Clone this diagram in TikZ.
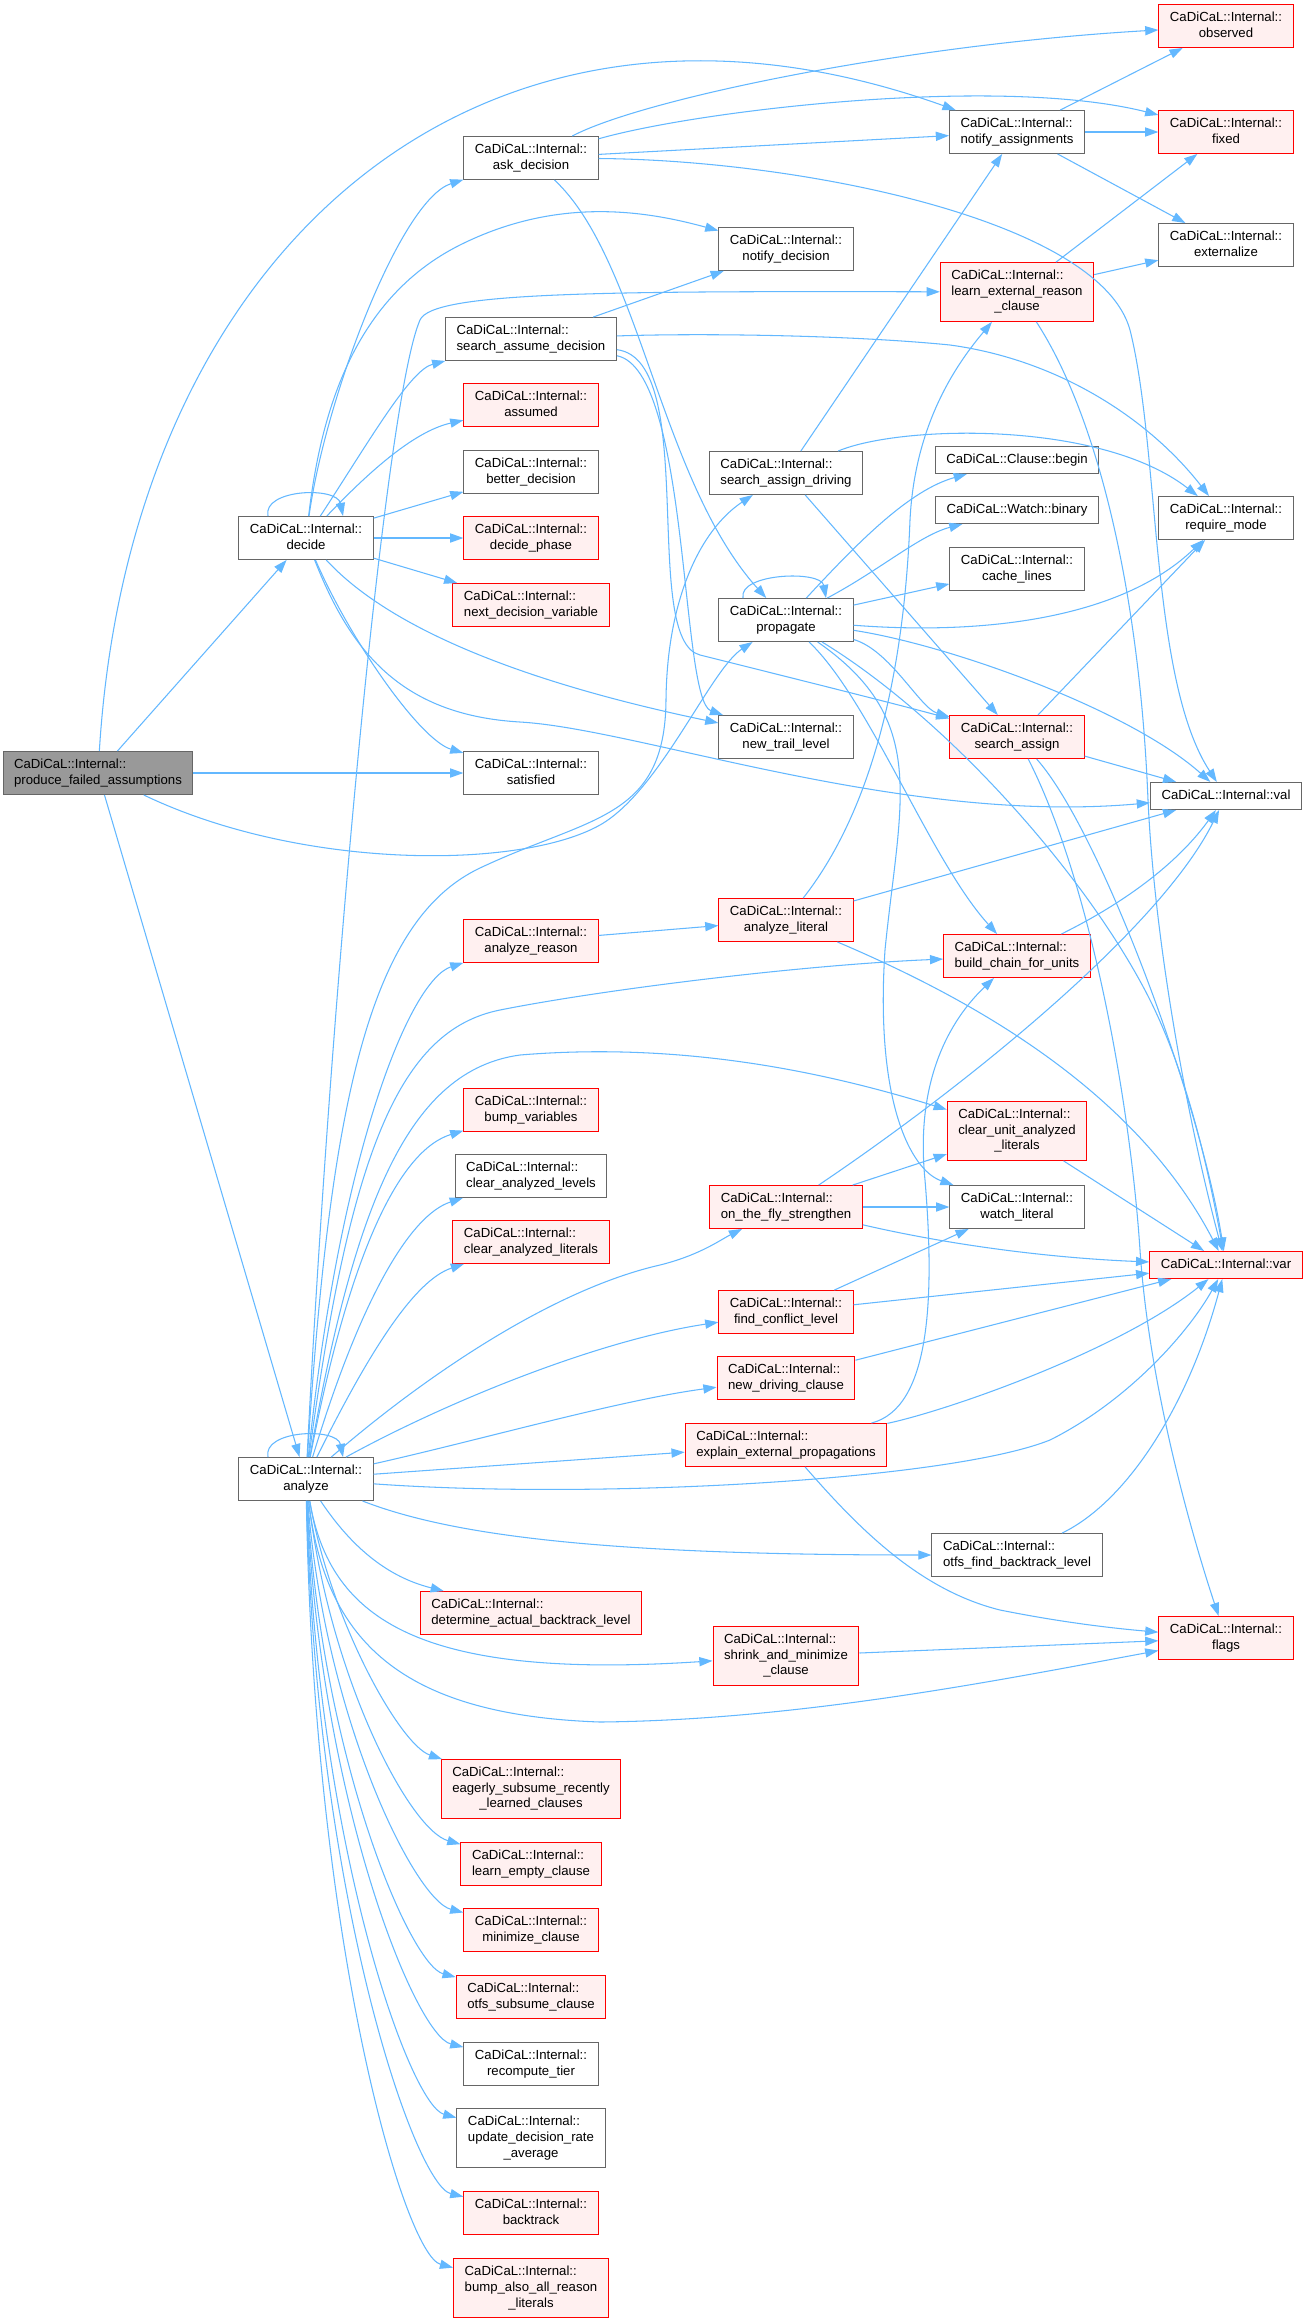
\documentclass[tikz,border=0pt]{standalone}
\usepackage{fontspec}
\setmainfont{Liberation Sans}
\usetikzlibrary{arrows.meta,calc}
\definecolor{edgeblue}{HTML}{63B8FF}
\definecolor{boxgray}{HTML}{666666}
\definecolor{redfill}{HTML}{FFF0F0}
\definecolor{rootfill}{HTML}{999999}
\newcommand{\cdi}{CaDiCaL::Internal::}
\newcommand{\fni}[1]{\begin{tabular}{@{}c@{}}#1\end{tabular}}
\newcommand{\fnii}[2]{\begin{tabular}{@{}l@{}}#1\\\multicolumn{1}{@{}c@{}}{#2}\end{tabular}}
\newcommand{\fniii}[3]{\begin{tabular}{@{}l@{}}#1\\#2\\\multicolumn{1}{@{}c@{}}{#3}\end{tabular}}

\begin{document}
\begin{tikzpicture}[x=0.02cm,y=-0.02cm,>={Triangle[length=7.5pt,width=5.2pt]},
  fn node/.style={draw=boxgray,fill=white,line width=0.6pt,inner xsep=6.3pt,inner ysep=3.2pt,
    font=\fontsize{7.5pt}{9pt}\selectfont},
  red node/.style={fn node,draw=red,fill=redfill},
  root node/.style={fn node,fill=rootfill},
  call/.style={->,draw=edgeblue,line width=0.6pt}]
  \fill[white] (0,0) rectangle (1308,2323);
  \useasboundingbox (0,0) rectangle (1308,2323);
  % column 0 and 1
  \node[root node] (pfa)          at (98,773)   {\fnii{\cdi}{produce\_failed\_assumptions}};
  \node[fn node]   (decide)       at (306,538)  {\fnii{\cdi}{decide}};
  \node[fn node]   (analyze)      at (306,1479) {\fnii{\cdi}{analyze}};
  % column 2
  \node[fn node]   (askdec)       at (531,158)  {\fnii{\cdi}{ask\_decision}};
  \node[fn node]   (searchassume) at (531,339)  {\fnii{\cdi}{search\_assume\_decision}};
  \node[red node]  (assumed)      at (531,405)  {\fnii{\cdi}{assumed}};
  \node[fn node]   (better)       at (531,472)  {\fnii{\cdi}{better\_decision}};
  \node[red node]  (decidephase)  at (531,538)  {\fnii{\cdi}{decide\_phase}};
  \node[red node]  (nextvar)      at (531,605)  {\fnii{\cdi}{next\_decision\_variable}};
  \node[fn node]   (satisfied)    at (531,773)  {\fnii{\cdi}{satisfied}};
  \node[red node]  (anreason)     at (531,941)  {\fnii{\cdi}{analyze\_reason}};
  \node[red node]  (bumpvars)     at (531,1110) {\fnii{\cdi}{bump\_variables}};
  \node[fn node]   (clearlevels)  at (531,1176) {\fnii{\cdi}{clear\_analyzed\_levels}};
  \node[red node]  (clearlits)    at (531,1242) {\fnii{\cdi}{clear\_analyzed\_literals}};
  \node[red node]  (determinebt)  at (531,1613) {\fnii{\cdi}{determine\_actual\_backtrack\_level}};
  \node[red node]  (eagerly)      at (531,1789) {\fniii{\cdi}{eagerly\_subsume\_recently}{\_learned\_clauses}};
  \node[red node]  (learnempty)   at (531,1864) {\fnii{\cdi}{learn\_empty\_clause}};
  \node[red node]  (minimize)     at (531,1930) {\fnii{\cdi}{minimize\_clause}};
  \node[red node]  (otfssubsume)  at (531,1997) {\fnii{\cdi}{otfs\_subsume\_clause}};
  \node[fn node]   (recompute)    at (531,2064) {\fnii{\cdi}{recompute\_tier}};
  \node[fn node]   (updaterate)   at (531,2138) {\fniii{\cdi}{update\_decision\_rate}{\_average}};
  \node[red node]  (backtrack)    at (531,2213) {\fnii{\cdi}{backtrack}};
  \node[red node]  (bumpalso)     at (531,2288) {\fniii{\cdi}{bump\_also\_all\_reason}{\_literals}};
  % column 3
  \node[fn node]   (notifydec)    at (786,249)  {\fnii{\cdi}{notify\_decision}};
  \node[fn node]   (searchdriving) at (786,473) {\fnii{\cdi}{search\_assign\_driving}};
  \node[fn node]   (propagate)    at (786,620)  {\fnii{\cdi}{propagate}};
  \node[fn node]   (newtrail)     at (786,737)  {\fnii{\cdi}{new\_trail\_level}};
  \node[red node]  (anliteral)    at (786,920)  {\fnii{\cdi}{analyze\_literal}};
  \node[red node]  (otfstrengthen) at (786,1207) {\fnii{\cdi}{on\_the\_fly\_strengthen}};
  \node[red node]  (findconflict) at (786,1312) {\fnii{\cdi}{find\_conflict\_level}};
  \node[red node]  (newdriving)   at (786,1378) {\fnii{\cdi}{new\_driving\_clause}};
  \node[red node]  (explainext)   at (786,1445) {\fnii{\cdi}{explain\_external\_propagations}};
  \node[red node]  (shrinkmin)    at (786,1656) {\fniii{\cdi}{shrink\_and\_minimize}{\_clause}};
  % column 4
  \node[fn node]   (notifyassign) at (1017,132) {\fnii{\cdi}{notify\_assignments}};
  \node[red node]  (learnext)     at (1017,292) {\fniii{\cdi}{learn\_external\_reason}{\_clause}};
  \node[fn node]   (clausebegin)  at (1017,460) {\fni{CaDiCaL::Clause::begin}};
  \node[fn node]   (watchbinary)  at (1017,510) {\fni{CaDiCaL::Watch::binary}};
  \node[fn node]   (cachelines)   at (1017,569) {\fnii{\cdi}{cache\_lines}};
  \node[red node]  (searchassign) at (1017,737) {\fnii{\cdi}{search\_assign}};
  \node[red node]  (buildchain)   at (1017,956) {\fnii{\cdi}{build\_chain\_for\_units}};
  \node[red node]  (clearunit)    at (1017,1131) {\fniii{\cdi}{clear\_unit\_analyzed}{\_literals}};
  \node[fn node]   (watchlit)     at (1017,1207) {\fnii{\cdi}{watch\_literal}};
  \node[fn node]   (otfsbacktrack) at (1017,1555) {\fnii{\cdi}{otfs\_find\_backtrack\_level}};
  % column 5
  \node[red node]  (observed)     at (1226,26)   {\fnii{\cdi}{observed}};
  \node[red node]  (fixed)        at (1226,132)  {\fnii{\cdi}{fixed}};
  \node[fn node]   (externalize)  at (1226,245)  {\fnii{\cdi}{externalize}};
  \node[fn node]   (requiremode)  at (1226,518)  {\fnii{\cdi}{require\_mode}};
  \node[fn node]   (val)          at (1226,796)  {\fni{\cdi val}};
  \node[red node]  (var)          at (1226,1265) {\fni{\cdi var}};
  \node[red node]  (flags)        at (1226,1638) {\fnii{\cdi}{flags}};

  % produce_failed_assumptions
  \draw[call] (pfa) -- (decide);
  \draw[call] (pfa) -- (analyze);
  \draw[call] (pfa) -- (satisfied);
  \draw[call] (pfa) .. controls (130,250) and (480,-60) .. (notifyassign);
  \draw[call] (pfa) .. controls (300,870) and (520,870) .. (600,825) .. controls (660,791) and (710,670) .. (propagate);
  % decide
  \draw[call] ($(decide.north)+(-38,0)$) .. controls +(-6,-27) and +(-6,-30) .. ($(decide.north)+(37,0)$);
  \draw[call] (decide) .. controls (325,400) and (400,200) .. (askdec);
  \draw[call] (decide) .. controls (320,420) and (350,300) .. (460,245) .. controls (560,195) and (650,212) .. (notifydec);
  \draw[call] (decide) .. controls (370,440) and (410,370) .. (searchassume);
  \draw[call] (decide) .. controls (380,460) and (420,430) .. (assumed);
  \draw[call] (decide) -- (better);
  \draw[call] (decide) -- (decidephase);
  \draw[call] (decide) -- (nextvar);
  \draw[call] (decide) .. controls (350,640) and (420,740) .. (satisfied);
  \draw[call] (decide) .. controls (400,640) and (560,690) .. (newtrail);
  \draw[call] (decide) .. controls (350,650) and (400,715) .. (520,722) .. controls (640,729) and (900,825) .. (val);
  % ask_decision
  \draw[call] (askdec) .. controls (640,100) and (900,45) .. (observed);
  \draw[call] (askdec) .. controls (700,110) and (1000,75) .. (fixed);
  \draw[call] (askdec) -- (notifyassign);
  \draw[call] (askdec) .. controls (800,160) and (1100,220) .. (1130,330) .. controls (1160,450) and (1150,680) .. (val);
  \draw[call] (askdec) .. controls (640,260) and (660,480) .. (propagate);
  % search_assume_decision
  \draw[call] (searchassume) -- (notifydec);
  \draw[call] (searchassume) .. controls (700,333) and (850,335) .. (950,345) .. controls (1060,360) and (1150,420) .. (requiremode);
  \draw[call] (searchassume) .. controls (690,370) and (680,700) .. (newtrail);
  \draw[call] (searchassume) .. controls (700,360) and (640,640) .. (700,655) .. controls (800,680) and (900,705) .. (searchassign);
  % notify_assignments, learn_external_reason_clause
  \draw[call] (notifyassign) -- (observed);
  \draw[call] (notifyassign) -- (fixed);
  \draw[call] (notifyassign) -- (externalize);
  \draw[call] (learnext) -- (fixed);
  \draw[call] (learnext) -- (externalize);
  \draw[call] (learnext) .. controls (1100,420) and (1140,600) .. (1148,800) .. controls (1155,950) and (1190,1130) .. (var);
  % search_assign_driving
  \draw[call] (searchdriving) -- (notifyassign);
  \draw[call] (searchdriving) .. controls (900,425) and (1100,420) .. (requiremode);
  \draw[call] (searchdriving) -- (searchassign);
  % propagate
  \draw[call] ($(propagate.north)+(-43,0)$) .. controls +(-5,-25) and +(-5,-28) .. ($(propagate.north)+(40,0)$);
  \draw[call] (propagate) .. controls (860,540) and (910,490) .. (clausebegin);
  \draw[call] (propagate) .. controls (880,570) and (920,535) .. (watchbinary);
  \draw[call] (propagate) -- (cachelines);
  \draw[call] (propagate) .. controls (980,635) and (1120,620) .. (requiremode);
  \draw[call] (propagate) .. controls (950,645) and (1130,710) .. (val);
  \draw[call] (propagate) .. controls (890,650) and (920,708) .. (searchassign);
  \draw[call] (propagate) .. controls (870,700) and (930,860) .. (buildchain);
  \draw[call] (propagate) .. controls (930,720) and (900,800) .. (885,950) .. controls (875,1100) and (910,1170) .. (watchlit);
  \draw[call] (propagate) .. controls (950,720) and (1090,880) .. (1150,1000) .. controls (1190,1080) and (1210,1180) .. (var);
  % search_assign
  \draw[call] (searchassign) -- (requiremode);
  \draw[call] (searchassign) -- (val);
  \draw[call] (searchassign) .. controls (1100,830) and (1200,1100) .. (var);
  \draw[call] (searchassign) .. controls (1090,880) and (1130,1100) .. (1140,1250) .. controls (1150,1400) and (1200,1560) .. (flags);
  % middle callees
  \draw[call] (anreason) -- (anliteral);
  \draw[call] (anliteral) .. controls (880,800) and (905,650) .. (910,520) .. controls (915,420) and (960,360) .. (learnext);
  \draw[call] (anliteral) -- (val);
  \draw[call] (anliteral) .. controls (950,990) and (1130,1080) .. (var);
  \draw[call] (buildchain) .. controls (1130,900) and (1180,860) .. (val);
  \draw[call] (clearunit) -- (var);
  \draw[call] (otfstrengthen) .. controls (960,1090) and (1160,930) .. (val);
  \draw[call] (otfstrengthen) -- (clearunit);
  \draw[call] (otfstrengthen) -- (watchlit);
  \draw[call] (otfstrengthen) .. controls (950,1245) and (1050,1258) .. (var);
  \draw[call] (findconflict) -- (watchlit);
  \draw[call] (findconflict) -- (var);
  \draw[call] (newdriving) -- (var);
  \draw[call] (explainext) .. controls (930,1408) and (935,1300) .. (925,1180) .. controls (915,1080) and (950,1020) .. (buildchain);
  \draw[call] (explainext) .. controls (950,1410) and (1120,1350) .. (var);
  \draw[call] (explainext) .. controls (860,1530) and (920,1590) .. (1000,1610) .. controls (1060,1622) and (1110,1628) .. (flags);
  \draw[call] (otfsbacktrack) .. controls (1130,1500) and (1190,1400) .. (var);
  \draw[call] (shrinkmin) -- (flags);
  % analyze
  \draw[call] ($(analyze.north)+(-38,0)$) .. controls +(-6,-27) and +(-6,-30) .. ($(analyze.north)+(37,0)$);
  \draw[call] (analyze) .. controls (330,1100) and (370,920) .. (480,868) .. controls (590,816) and (665,820) .. (666,700) .. controls (667,600) and (700,530) .. (searchdriving);
  \draw[call] (analyze) .. controls (330,1000) and (385,400) .. (420,320) .. controls (432,292) and (600,291) .. (learnext);
  \draw[call] (analyze) .. controls (340,1150) and (410,980) .. (anreason);
  \draw[call] (analyze) .. controls (350,1150) and (400,1030) .. (500,1010) .. controls (600,990) and (800,965) .. (buildchain);
  \draw[call] (analyze) .. controls (355,1200) and (410,1070) .. (520,1055) .. controls (700,1040) and (850,1080) .. (clearunit);
  \draw[call] (analyze) .. controls (350,1250) and (400,1150) .. (bumpvars);
  \draw[call] (analyze) .. controls (360,1300) and (410,1215) .. (clearlevels);
  \draw[call] (analyze) .. controls (370,1350) and (415,1280) .. (clearlits);
  \draw[call] (analyze) .. controls (420,1380) and (550,1290) .. (660,1265) .. controls (700,1255) and (720,1240) .. (otfstrengthen);
  \draw[call] (analyze) .. controls (450,1400) and (600,1340) .. (findconflict);
  \draw[call] (analyze) .. controls (480,1440) and (620,1400) .. (newdriving);
  \draw[call] (analyze) -- (explainext);
  \draw[call] (analyze) .. controls (600,1500) and (950,1480) .. (1050,1440) .. controls (1130,1400) and (1190,1330) .. (var);
  \draw[call] (analyze) .. controls (450,1535) and (600,1555) .. (otfsbacktrack);
  \draw[call] (analyze) .. controls (360,1560) and (400,1580) .. (determinebt);
  \draw[call] (analyze) .. controls (330,1620) and (420,1680) .. (shrinkmin);
  \draw[call] (analyze) .. controls (325,1640) and (400,1715) .. (600,1722) .. controls (800,1720) and (1000,1680) .. (flags);
  \draw[call] (analyze) .. controls (330,1620) and (400,1745) .. (eagerly);
  \draw[call] (analyze) .. controls (330,1680) and (410,1830) .. (learnempty);
  \draw[call] (analyze) .. controls (325,1720) and (415,1900) .. (minimize);
  \draw[call] (analyze) .. controls (322,1760) and (410,1965) .. (otfssubsume);
  \draw[call] (analyze) .. controls (320,1800) and (415,2035) .. (recompute);
  \draw[call] (analyze) .. controls (318,1850) and (410,2105) .. (updaterate);
  \draw[call] (analyze) .. controls (316,1900) and (415,2185) .. (backtrack);
  \draw[call] (analyze) .. controls (314,1950) and (405,2255) .. (bumpalso);
\end{tikzpicture}
\end{document}
